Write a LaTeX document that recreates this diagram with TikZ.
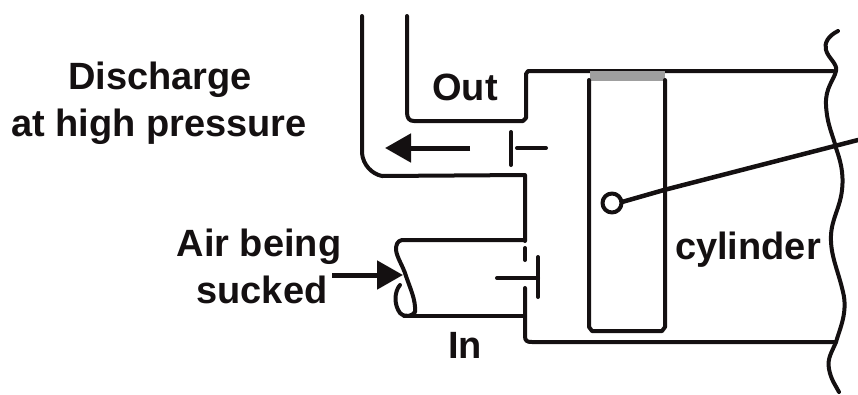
\documentclass[tikz,border=0pt]{standalone}
\usepackage{fontspec}
\setmainfont{Liberation Sans}
\usetikzlibrary{arrows.meta}
\definecolor{ink}{HTML}{141011}
\tikzset{
  wall/.style={draw=ink,line width=4pt,line cap=round,line join=round},
  lab/.style={text=ink,font=\fontsize{38}{44}\selectfont\bfseries,inner sep=0pt,align=center},
  flow/.style={draw=ink,line width=5pt,-{Triangle[length=26pt,width=28pt]},shorten >=0pt}
}
\begin{document}
\begin{tikzpicture}[x=1pt,y=-1pt]
\useasboundingbox (0,0) rectangle (858,394);
% text
\node[lab] (discharge) at (160,80) {Discharge};
\node[lab] (pressure) at (159,127) {at high pressure};
\node[lab] (air) at (259,247) {Air being};
\node[lab] (sucked) at (262,290) {sucked};
\node[lab] (out) at (465,87) {Out};
\node[lab] (in) at (465,345) {In};
\node[lab] (cyl) at (748,250) {cylinder};
% outlet pipe and upper wall
\draw[wall] (362,16) -- (362,153) .. controls (363,165) and (372,174) .. (382,176) -- (525,175) -- (525,241);
\draw[wall] (407,16) -- (407,112) .. controls (407,118) and (409,121) .. (414,121) -- (523,121) -- (526,118) -- (526,74) -- (528,71) -- (833,71);
% inlet pipe
\draw[wall] (525,240) -- (402,240) .. controls (397,241) and (396,245) .. (396,250) .. controls (397,258) and (403,266) .. (406,276) .. controls (410,288) and (416,300) .. (415,312) .. controls (413,316) and (405,318) .. (400,313) .. controls (394,305) and (394,292) .. (400,285);
\draw[wall] (404,316) -- (525,316);
% cylinder wall below the inlet valve
\draw[wall] (525,248) -- (525,260);
\draw[wall] (525,288) -- (525,336) .. controls (525,341) and (527,342) .. (532,342) -- (836,342);
% valves
\draw[wall] (538,257) -- (538,297);
\draw[wall] (497,278) -- (538,278);
\draw[wall] (511,132) -- (511,165);
\draw[wall] (517,148) -- (546,148);
% piston
\fill[gray!75] (590,71) rectangle (665,81);
\draw[wall] (589,80) -- (589,327) -- (592,331) -- (662,331) -- (665,327) -- (665,80);
% connecting rod
\coordinate (pin) at (612,203);
\draw[wall] (pin) circle (9.5);
\draw[draw=ink,line width=4.5pt,line cap=round] (622,202) -- (664,190) -- (858,140);
% flow arrows
\coordinate (a1) at (470,148); \coordinate (a2) at (385,148);
\draw[flow] (a1) -- (a2);
\coordinate (b1) at (332,275); \coordinate (b2) at (403,275);
\draw[flow] (b1) -- (b2);
% break line
\draw[wall] (838,31) .. controls (828,36) and (824,43) .. (826,50) .. controls (828,58) and (838,64) .. (836,71) .. controls (834,80) and (825,88) .. (826,105) .. controls (827,125) and (833,135) .. (836,148) .. controls (840,160) and (844,172) .. (842,190) .. controls (840,208) and (832,218) .. (831,235) .. controls (830,255) and (838,270) .. (843,292) .. controls (848,312) and (840,328) .. (836,342) .. controls (832,352) and (827,358) .. (829,369) .. controls (831,380) and (836,386) .. (839,392);
\end{tikzpicture}
\end{document}
